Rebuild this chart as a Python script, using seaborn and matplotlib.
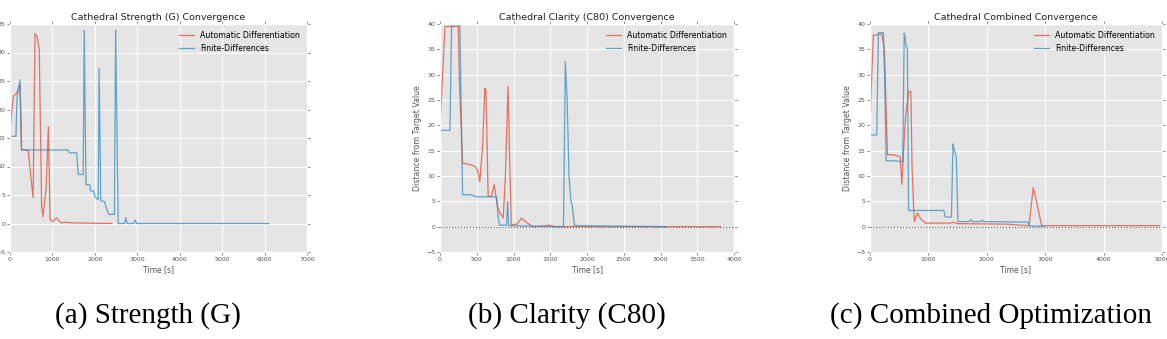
import numpy as np
import pandas as pd
import matplotlib
matplotlib.use("Agg")
import matplotlib.pyplot as plt
import seaborn as sns

# Strength (G)
str_ad_t = [0, 80, 150, 235, 270, 300, 430, 480, 545, 590, 640, 690, 745, 776, 850, 905, 945, 1000, 1100, 1200, 1300, 1500, 2400]
str_ad_v = [16.4, 22.3, 22.8, 24.3, 12.9, 12.9, 12.9, 9.0, 4.5, 33.3, 32.8, 30.5, 3.0, 1.2, 6.0, 17.0, 0.7, 0.3, 1.0, 0.1, 0.2, 0.1, 0.0]
str_fd_t = [0, 140, 165, 235, 275, 1370, 1400, 1570, 1610, 1725, 1750, 1790, 1880, 1900, 1980, 2000, 2080, 2100, 2140, 2230, 2250, 2330, 2460, 2490, 2550, 2700, 2730, 2760, 2920, 2950, 2990, 6100]
str_fd_v = [15.3, 15.3, 22.0, 25.2, 12.9, 12.9, 12.4, 12.4, 8.6, 8.6, 33.9, 6.8, 6.8, 5.7, 5.7, 4.7, 4.2, 27.2, 4.0, 3.8, 3.2, 1.6, 1.6, 33.9, 0.0, 0.0, 1.0, 0.0, 0.0, 0.6, 0.0, 0.0]

# Clarity (C80)
cla_ad_t = [0, 68, 100, 250, 262, 307, 400, 475, 510, 542, 580, 610, 625, 655, 700, 737, 782, 815, 860, 890, 925, 945, 970, 1050, 1110, 1180, 1265, 1400, 1490, 1550, 3815]
cla_ad_v = [19.8, 39.5, 39.5, 39.5, 29.6, 12.5, 12.3, 11.9, 11.2, 8.9, 16.0, 27.3, 27.0, 6.0, 6.0, 8.3, 4.0, 2.7, 1.7, 10.0, 27.7, 15.0, 0.4, 0.5, 1.7, 0.8, 0.0, 0.1, 0.3, 0.0, 0.0]
cla_fd_t = [0, 135, 158, 270, 307, 430, 470, 500, 770, 790, 810, 905, 920, 935, 1680, 1705, 1730, 1755, 1780, 1800, 1830, 3080]
cla_fd_v = [19.0, 19.0, 39.8, 39.8, 6.3, 6.3, 6.0, 5.9, 5.9, 2.0, 0.3, 0.3, 5.0, 0.2, 0.0, 32.6, 25.0, 10.0, 5.3, 4.0, 0.2, 0.0]

# Combined
com_ad_t = [0, 29, 57, 100, 172, 200, 218, 247, 299, 400, 460, 517, 546, 575, 610, 665, 700, 720, 747, 760, 790, 816, 870, 950, 1380, 1420, 1500, 2330, 2700, 2723, 2795, 2850, 2940, 4950]
com_ad_v = [19.8, 29.6, 37.8, 37.8, 38.0, 38.0, 36.9, 34.9, 14.2, 14.2, 14.0, 13.8, 8.3, 15.0, 22.0, 26.7, 26.7, 12.0, 3.7, 1.0, 2.0, 2.7, 1.5, 0.7, 0.7, 0.9, 0.6, 0.5, 0.2, 0.2, 7.7, 5.0, 0.2, 0.2]
com_fd_t = [0, 115, 144, 230, 250, 276, 431, 560, 586, 600, 615, 640, 660, 1264, 1290, 1395, 1420, 1437, 1477, 1506, 1700, 1724, 1750, 1900, 1925, 1950, 2705, 2740, 2990]
com_fd_v = [18.1, 18.1, 38.3, 38.3, 30.0, 13.0, 13.0, 12.8, 38.2, 37.5, 36.0, 35.0, 3.2, 3.2, 1.9, 1.9, 16.3, 15.5, 13.8, 1.0, 1.0, 1.4, 1.0, 1.0, 1.3, 1.0, 0.9, 0.1, 0.1]

titles = ["Cathedral Strength (G) Convergence", "Cathedral Clarity (C80) Convergence", "Cathedral Combined Convergence"]
captions = ["(a) Strength (G)", "(b) Clarity (C80)", "(c) Combined Optimization"]
xmax = [7000, 4000, 5000]
xstep = [1000, 500, 1000]

plt.style.use("ggplot")
plt.rcParams.update({
    "font.family": ["DejaVu Sans"],
    "axes.facecolor": "#E5E5E5",
    "grid.color": "white",
    "grid.linewidth": 0.8,
    "xtick.color": "#555555",
    "ytick.color": "#555555",
})

W, H = 1167, 339
fig = plt.figure(figsize=(W / 100, H / 100), dpi=100)
boxes = [(10, 297), (440, 294), (870, 292)]
series = [
    (str_ad_t, str_ad_v, str_fd_t, str_fd_v),
    (cla_ad_t, cla_ad_v, cla_fd_t, cla_fd_v),
    (com_ad_t, com_ad_v, com_fd_t, com_fd_v),
]
red, blue = "#E24A33", "#348ABD"

for i, (x0, w) in enumerate(boxes):
    ax = fig.add_axes([x0 / W, 1 - 252 / H, w / W, 228 / H])
    ad_t, ad_v, fd_t, fd_v = series[i]
    sns.lineplot(x=ad_t, y=ad_v, ax=ax, color=red, lw=0.9, alpha=0.75,
                 estimator=None, sort=False, label="Automatic Differentiation")
    sns.lineplot(x=fd_t, y=fd_v, ax=ax, color=blue, lw=0.9, alpha=0.75,
                 estimator=None, sort=False, label="Finite-Differences")
    if i > 0:
        ax.axhline(0, color="#555555", ls=":", lw=0.8, zorder=3)
    ax.set_xlim(0, xmax[i])
    ax.set_ylim(-5, 35 if i == 0 else 40)
    ax.set_xticks(np.arange(0, xmax[i] + 1, xstep[i]))
    ax.set_yticks(np.arange(-5, (35 if i == 0 else 40) + 1, 5))
    ax.tick_params(labelsize=4.5, length=2, width=0.5, pad=1.5,
                   top=True, right=True, direction="out")
    ax.set_title(titles[i], fontsize=6.8, color="#222222", pad=3)
    ax.set_xlabel("Time [s]", fontsize=5.5, color="#555555", labelpad=2)
    ax.set_ylabel("Distance from Target Value", fontsize=5.6, color="#555555", labelpad=3)
    ax.legend(loc="upper right", frameon=False, fontsize=5.7, handlelength=1.8)

fig.text(148 / W, 1 - 316 / H, captions[0], ha="center", va="center",
         family="Liberation Serif", fontsize=21)
fig.text(567 / W, 1 - 316 / H, captions[1], ha="center", va="center",
         family="Liberation Serif", fontsize=21)
fig.text(830 / W, 1 - 316 / H, captions[2], ha="left", va="center",
         family="Liberation Serif", fontsize=21)

fig.savefig("out.png", dpi=100)
